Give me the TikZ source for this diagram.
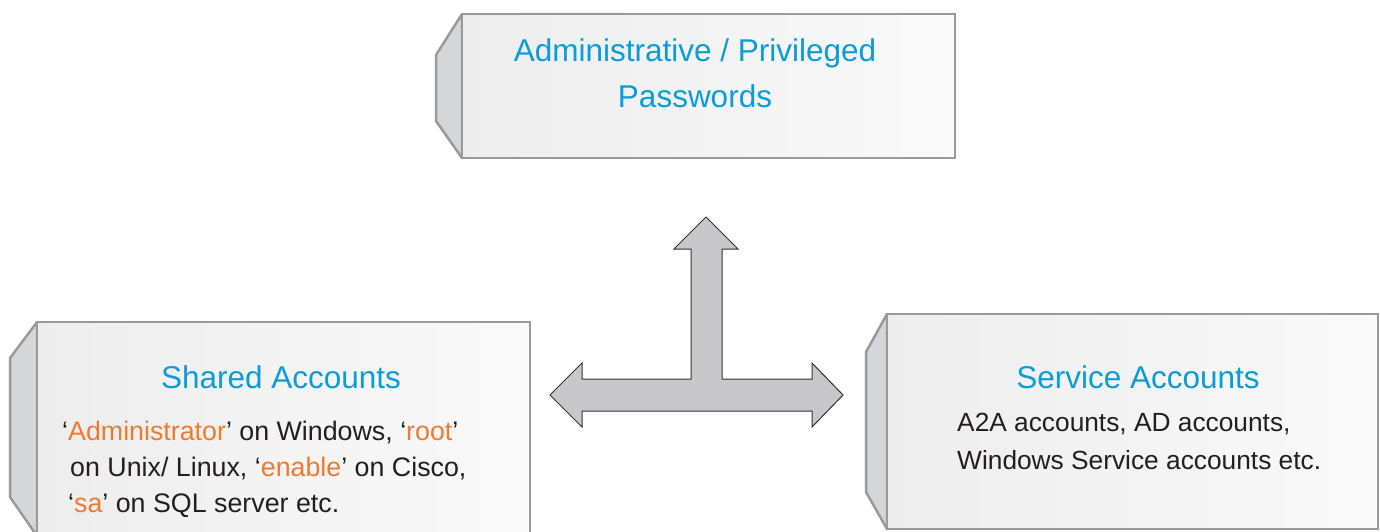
\documentclass[tikz,border=0pt]{standalone}
\usepackage{fontspec}
\setmainfont{Liberation Sans}
\usetikzlibrary{calc}
\definecolor{titleblue}{HTML}{0B9CDA}
\definecolor{keyorange}{HTML}{F07A2E}
\definecolor{bodyblack}{HTML}{231F20}
\definecolor{boxline}{HTML}{9A9A9C}
\definecolor{bevelgray}{HTML}{D5D6D9}
\definecolor{arrowgray}{HTML}{C8C8CA}
\tikzset{
	panel/.style={draw=boxline, line width=2.5pt, left color=black!7, right color=black!2},
	bevel/.style={draw=boxline, line width=2.5pt, fill=bevelgray, line join=round},
	heading/.style={text=titleblue, font=\fontsize{31.5}{46}\selectfont, align=center},
	bodytext/.style={text=bodyblack, align=left, anchor=west, inner sep=0pt},
}
\newcommand{\hl}[1]{\textcolor{keyorange}{#1}}

\begin{document}
\begin{tikzpicture}[x=1pt, y=-1pt]
				\useasboundingbox (0, 0) rectangle (1380, 531);
				\clip (0, 0) rectangle (1380, 531);
				
				\draw[bevel] (462, 14) -- (436, 55) -- (436, 121) -- (462, 158) -- cycle;
				\draw[panel] (462, 14) rectangle (955, 158);
				\node[heading] (privileged) at (695, 73) {Administrative / Privileged\\Passwords};
				
				\draw[bevel] (37, 322) -- (10, 358) -- (10, 497) -- (37, 536) -- cycle;
				\draw[panel] (37, 322) rectangle (530, 545);
				\node[heading] (shared) at (281, 377) {Shared Accounts};
				\node[bodytext, font=\fontsize{26.8}{36}\selectfont] (sharedlist) at (62, 469) {‘\hl{Administrator}’ on Windows, ‘\hl{root}’\\\hspace{8pt}on Unix/ Linux, ‘\hl{enable}’ on Cisco,\\\hspace{6pt}‘\hl{sa}’ on SQL server etc.};
				
				\draw[bevel] (887, 314) -- (866, 352) -- (866, 492) -- (887, 529) -- cycle;
				\draw[panel] (887, 314) rectangle (1378, 529);
				\node[heading] (service) at (1138, 377) {Service Accounts};
				\node[bodytext, font=\fontsize{26.3}{38}\selectfont] (servicelist) at (957, 441) {A2A accounts, AD accounts,\\Windows Service accounts etc.};
				
				\draw[fill=arrowgray, draw=black!80, line width=1pt, line join=miter]
					(706, 217) -- (738, 249) -- (722, 249) -- (722, 379) -- (812, 379) -- (812, 363)
					-- (843, 395) -- (812, 427) -- (812, 411) -- (582, 411) -- (582, 427) -- (550, 395)
					-- (582, 363) -- (582, 379) -- (691, 379) -- (691, 249) -- (674, 249) -- cycle;
			\end{tikzpicture}
\end{document}
